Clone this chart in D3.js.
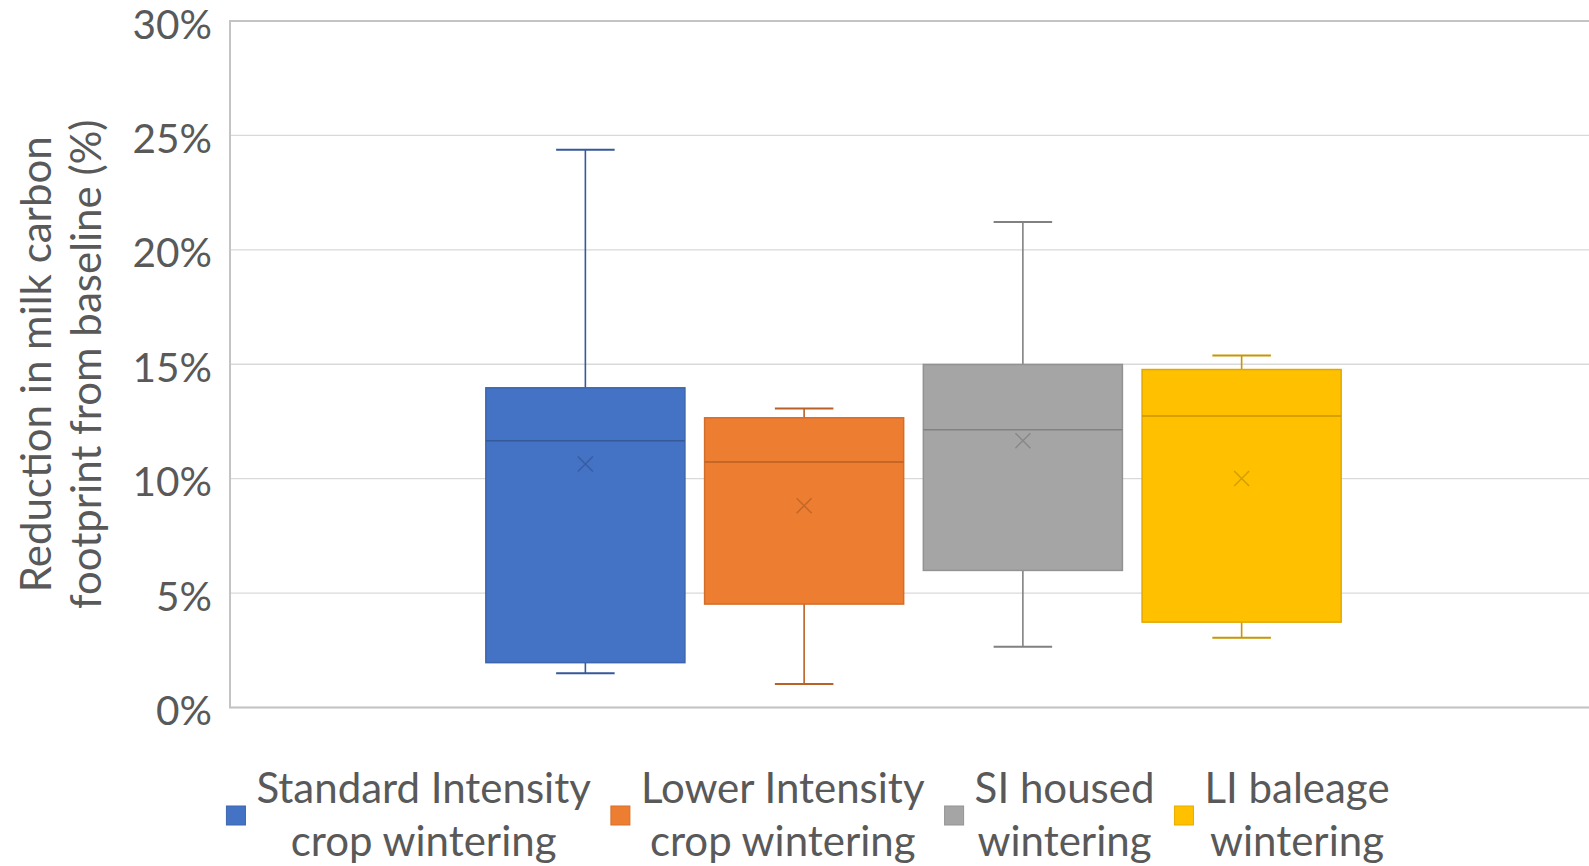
<!DOCTYPE html>
<html>
<head>
<meta charset="utf-8">
<script src="https://cdn.jsdelivr.net/npm/d3@7"></script>
<style>
  html, body { margin: 0; padding: 0; background: #ffffff; overflow: hidden; }
  svg { display: block; font-family: Lato, "Open Sans", sans-serif; }
</style>
</head>
<body>
<svg id="chart" width="1589" height="866"></svg>
<script>
// ---- data ----
const seriesNames = ["Standard Intensity crop wintering", "Lower Intensity crop wintering", "SI housed wintering", "LI baleage wintering"];
const legendLines = [["Standard Intensity", "crop wintering"], ["Lower Intensity", "crop wintering"], ["SI housed", "wintering"], ["LI baleage", "wintering"]];
const minValues    = [1.50, 1.03, 2.65, 3.05];
const q1Values     = [1.96, 4.52, 5.99, 3.73];
const medianValues = [11.66, 10.73, 12.14, 12.74];
const q3Values     = [13.97, 12.66, 14.99, 14.77];
const maxValues    = [24.37, 13.07, 21.22, 15.38];
const meanValues   = [10.64, 8.82, 11.66, 10.01];
const yTicks = [0, 5, 10, 15, 20, 25, 30];
const colors = ["#4472C4", "#ED7D31", "#A5A5A5", "#FFC000"];
const category = [""];

// ---- layout ----
const svg = d3.select("#chart");
const plot = { left: 230, top: 21, right: 1597, bottom: 707.5 };
const textColor = "#595959";
const fontSize = 42;
const tickFontSize = 40.5;

const y = d3.scaleLinear().domain([0, 30]).range([plot.bottom, plot.top]);
const x0 = d3.scaleBand().domain(category).range([plot.left, plot.right]);
const groupInset = 246;
const x = d3.scaleBand().domain(seriesNames)
  .range([x0("") + groupInset, x0("") + x0.bandwidth() - groupInset])
  .paddingInner(0.09).paddingOuter(0.045);

const data = seriesNames.map((name, i) => ({
  name, color: colors[i],
  min: minValues[i], q1: q1Values[i], median: medianValues[i],
  q3: q3Values[i], max: maxValues[i], mean: meanValues[i]
}));

// gridlines
svg.append("g").selectAll("line").data(yTicks).join("line")
  .attr("x1", plot.left).attr("x2", plot.right)
  .attr("y1", d => y(d)).attr("y2", d => y(d))
  .attr("stroke", "#d9d9d9").attr("stroke-width", 1.3);

// plot border (left, top, bottom)
svg.append("path")
  .attr("d", `M${plot.right},${plot.top}H${plot.left}V${plot.bottom}H${plot.right}`)
  .attr("fill", "none").attr("stroke", "#c4c4c4").attr("stroke-width", 2);

// y axis labels via d3 axis
const yAxis = d3.axisLeft(y).tickValues(yTicks).tickFormat(d => d + "%").tickSize(0).tickPadding(18);
const gy = svg.append("g").attr("transform", `translate(${plot.left},0)`).call(yAxis);
gy.select(".domain").remove();
gy.selectAll("text")
  .attr("fill", textColor)
  .style("font-size", tickFontSize + "px")
  .style("font-family", "Lato, sans-serif")
  .attr("dy", "0.42em");

// y axis title
const titleG = svg.append("text")
  .attr("transform", `translate(0,${(plot.top + plot.bottom) / 2}) rotate(-90)`)
  .attr("text-anchor", "middle")
  .attr("fill", textColor)
  .style("font-size", fontSize + "px");
titleG.append("tspan").attr("x", 0).attr("y", 51).text("Reduction in milk carbon");
titleG.append("tspan").attr("x", 0).attr("y", 101).text("footprint from baseline (%)");

// boxes
const bw = x.bandwidth();
const capHalf = bw * 0.147;
const g = svg.append("g").selectAll("g").data(data).join("g");
g.each(function(d) {
  const s = d3.select(this);
  const cx = x(d.name) + bw / 2;
  const dark = d3.color(d.color).darker(0.7).formatHex();
  const edge = d3.color(d.color).darker(0.35).formatHex();
  s.append("line").attr("x1", cx).attr("x2", cx).attr("y1", y(d.q3)).attr("y2", y(d.max))
    .attr("stroke", dark).attr("stroke-width", 1.6);
  s.append("line").attr("x1", cx).attr("x2", cx).attr("y1", y(d.q1)).attr("y2", y(d.min))
    .attr("stroke", dark).attr("stroke-width", 1.6);
  s.append("line").attr("x1", cx - capHalf).attr("x2", cx + capHalf).attr("y1", y(d.max)).attr("y2", y(d.max))
    .attr("stroke", dark).attr("stroke-width", 2);
  s.append("line").attr("x1", cx - capHalf).attr("x2", cx + capHalf).attr("y1", y(d.min)).attr("y2", y(d.min))
    .attr("stroke", dark).attr("stroke-width", 2);
  s.append("rect").attr("x", x(d.name)).attr("width", bw)
    .attr("y", y(d.q3)).attr("height", y(d.q1) - y(d.q3))
    .attr("fill", d.color).attr("stroke", edge).attr("stroke-width", 1.5);
  s.append("line").attr("x1", x(d.name)).attr("x2", x(d.name) + bw)
    .attr("y1", y(d.median)).attr("y2", y(d.median))
    .attr("stroke", dark).attr("stroke-width", 1.6);
  const m = 7.5, my = y(d.mean);
  s.append("path").attr("d", `M${cx - m},${my - m}L${cx + m},${my + m}M${cx - m},${my + m}L${cx + m},${my - m}`)
    .attr("stroke", dark).attr("stroke-width", 1.5).attr("fill", "none").attr("opacity", 0.8);
});

// legend
const legend = svg.append("g");
const sq = 19, gapSq = 11, gapItem = 20;
const items = legend.selectAll("g").data(data).join("g");
items.each(function(d, i) {
  const s = d3.select(this);
  s.append("rect").attr("x", 0).attr("y", 806).attr("width", sq).attr("height", sq)
    .attr("fill", d.color).attr("stroke", d3.color(d.color).darker(0.3).formatHex()).attr("stroke-width", 1);
  const t = s.append("text").attr("fill", textColor).style("font-size", fontSize + "px").attr("text-anchor", "middle");
  t.append("tspan").attr("x", 0).attr("y", 803).text(legendLines[i][0]);
  t.append("tspan").attr("x", 0).attr("y", 856).text(legendLines[i][1]);
});
const widths = [];
items.each(function() {
  let w = 0;
  d3.select(this).selectAll("tspan").each(function() { w = Math.max(w, this.getComputedTextLength()); });
  widths.push(w);
});
const total = d3.sum(widths) + widths.length * (sq + gapSq) + (widths.length - 1) * gapItem;
let cursor = 808 - total / 2;
items.each(function(d, i) {
  const s = d3.select(this);
  s.select("rect").attr("x", cursor);
  const cx = cursor + sq + gapSq + widths[i] / 2;
  s.selectAll("tspan").attr("x", cx);
  cursor += sq + gapSq + widths[i] + gapItem;
});
</script>
</body>
</html>
